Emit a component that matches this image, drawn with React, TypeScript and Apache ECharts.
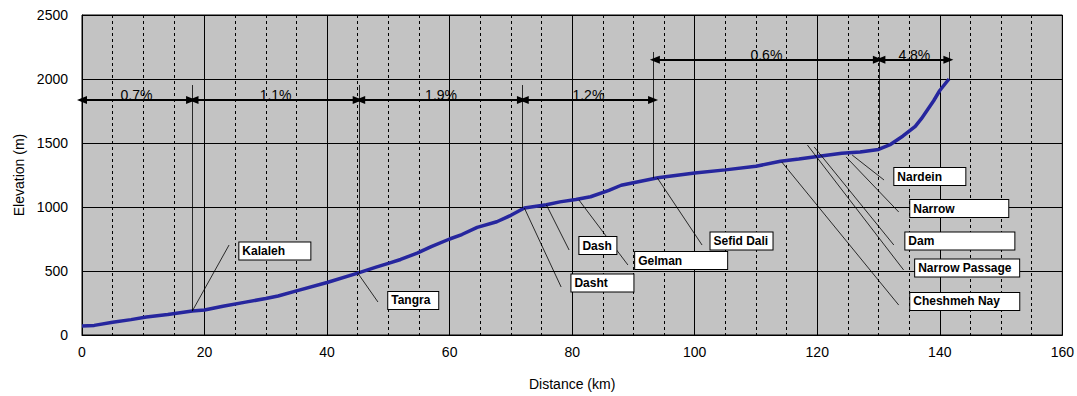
import React, { useEffect, useRef } from "react";
import * as echarts from "echarts";

// ---- Elevation profile ----
const distanceKm = [0, 2, 5, 8, 10.5, 14, 18, 20, 23, 26.7, 30, 32, 35, 40, 45, 48, 50, 52, 54.7, 57, 60, 62, 64.5, 67.7, 70, 72.2, 75.8, 78, 80.6, 83, 86, 88, 90, 94, 100, 105, 110, 114, 117, 120, 124, 127, 130, 132, 134, 136, 137, 138, 139, 140, 141.5];
const elevationM = [70, 75, 100, 120, 140, 160, 187, 195, 225, 257, 285, 305, 345, 410, 484, 530, 560, 590, 640, 690, 750, 785, 841, 885, 935, 992, 1018, 1040, 1059, 1080, 1130, 1170, 1190, 1228, 1265, 1290, 1318, 1358, 1375, 1395, 1420, 1430, 1450, 1490, 1555, 1630, 1690, 1760, 1830, 1910, 2000];

// ---- Gradient segments ----
const gradientLabels = ["0.7%", "1.1%", "1.9%", "1.2%", "0.6%", "4.8%"];
const gradientFromKm = [0, 18.2, 45.4, 72.1, 93.5, 130.3];
const gradientToKm = [17.8, 45.0, 71.8, 93.2, 129.9, 141.4];
const gradientArrowElev = [1836, 1836, 1836, 1836, 2150, 2150];

const dividerKm = [18, 45.2, 71.9, 93.3, 130.1, 141.6];
const dividerTopElev = [1953, 1953, 1953, 2211, 2211, 2211];
const dividerBottomElev = [187, 484, 992, 1225, 1460, 2000];

// ---- Place names ----
const placeNames = ["Kalaleh", "Tangra", "Dasht", "Dash", "Gelman", "Sefid Dali", "Nardein", "Narrow", "Dam", "Narrow Passage", "Cheshmeh Nay"];
const placeKm = [18, 45, 72.2, 75.8, 81.1, 93.9, 125.7, 124.7, 119.5, 118.4, 114.2];
const placeElev = [187, 484, 992, 1016, 1055, 1227, 1406, 1391, 1469, 1484, 1352];
const calloutKm = [24.0, 48.3, 78.2, 79.5, 89.1, 101.2, 130.9, 133.3, 132.5, 134.1, 133.3];
const calloutElev = [703, 258, 375, 664, 547, 703, 1211, 961, 703, 508, 234];
const boxKm = [25.6, 49.9, 79.8, 81.1, 90.2, 102.5, 132.5, 135.1, 134.3, 135.9, 135.1];
const boxElev = [656, 270, 406, 699, 582, 734, 1238, 988, 734, 523, 262];

// box widths in pixels (layout, not data)
const boxWidthPx = [73, 52, 64, 39, 94, 64, 73, 100, 111, 106, 111];

const AXIS_FONT = "'Liberation Sans', Arial, sans-serif";

export default function App() {
  const ref = useRef<HTMLDivElement>(null);

  useEffect(() => {
    if (!ref.current) return;
    const chart = echarts.init(ref.current, undefined, { renderer: "svg" });

    const profile = distanceKm.map((d, i) => [d, elevationM[i]]);

    const arrowLines = gradientLabels.map((lab, i) => [
      { coord: [gradientFromKm[i], gradientArrowElev[i]], name: lab },
      { coord: [gradientToKm[i], gradientArrowElev[i]] },
    ]);

    const dividerLines = dividerKm.map((d, i) => [
      { coord: [d, dividerTopElev[i]] },
      { coord: [d, dividerBottomElev[i]] },
    ]);

    const leaderLines = placeNames.map((_, i) => [
      { coord: [placeKm[i], placeElev[i]] },
      { coord: [calloutKm[i], calloutElev[i]] },
    ]);

    const boxes = placeNames.map((name, i) => ({
      name,
      coord: [boxKm[i], boxElev[i]],
      label: { width: boxWidthPx[i] - 8 },
    }));

    const option: any = {
      animation: false,
      backgroundColor: "#ffffff",
      grid: {
        left: 82,
        right: 7,
        top: 15,
        bottom: 61,
        show: true,
        backgroundColor: "#c3c3c3",
        borderColor: "#000",
        borderWidth: 1,
      },
      xAxis: {
        type: "value",
        min: 0,
        max: 160,
        interval: 20,
        name: "Distance (km)",
        nameLocation: "middle",
        nameGap: 42,
        nameTextStyle: { fontFamily: AXIS_FONT, fontSize: 14, color: "#000" },
        axisLine: { show: true, lineStyle: { color: "#000", width: 1 } },
        axisTick: { show: false },
        axisLabel: { fontFamily: AXIS_FONT, fontSize: 14, color: "#000", margin: 10 },
        splitLine: { show: true, lineStyle: { color: "#000", width: 1 } },
        minorTick: { show: false, splitNumber: 4 },
        minorSplitLine: { show: true, lineStyle: { color: "#000", width: 1, type: [3, 3] } },
      },
      yAxis: {
        type: "value",
        min: 0,
        max: 2500,
        interval: 500,
        name: "Elevation (m)",
        nameLocation: "middle",
        nameGap: 54,
        nameTextStyle: { fontFamily: AXIS_FONT, fontSize: 14, color: "#000" },
        axisLine: { show: true, lineStyle: { color: "#000", width: 1 } },
        axisTick: { show: false },
        axisLabel: {
          fontFamily: AXIS_FONT,
          fontSize: 14,
          color: "#000",
          margin: 14,
          formatter: (v: number) => String(v),
        },
        splitLine: { show: true, lineStyle: { color: "#000", width: 1 } },
      },
      series: [
        {
          type: "line",
          name: "leaders",
          data: [],
          silent: true,
          z: 3,
          markLine: {
            silent: true,
            symbol: ["none", "none"],
            label: { show: false },
            lineStyle: { color: "#000", width: 0.8, type: "solid" },
            emphasis: { disabled: true },
            data: [...leaderLines, ...dividerLines],
          },
        },
        {
          type: "line",
          name: "profile",
          data: profile,
          showSymbol: false,
          symbol: "none",
          z: 4,
          lineStyle: { color: "#26269e", width: 3.5 },
        },
        {
          type: "line",
          name: "gradients",
          data: [],
          silent: true,
          z: 5,
          markLine: {
            silent: true,
            symbol: ["triangle", "triangle"],
            symbolSize: [8, 10],
            lineStyle: { color: "#000", width: 2, type: "solid" },
            itemStyle: { color: "#000" },
            emphasis: { disabled: true },
            label: {
              show: true,
              position: "middle",
              formatter: "{b}",
              distance: -2,
              fontFamily: AXIS_FONT,
              fontSize: 14,
              color: "#000",
            },
            data: arrowLines,
          },
          markPoint: {
            silent: true,
            symbol: "rect",
            symbolSize: 1,
            itemStyle: { color: "rgba(0,0,0,0)" },
            label: {
              show: true,
              position: "right",
              distance: 0,
              formatter: "{b}",
              align: "left",
              verticalAlign: "middle",
              fontFamily: AXIS_FONT,
              fontWeight: "bold",
              fontSize: 12,
              color: "#000",
              backgroundColor: "#fff",
              borderColor: "#000",
              borderWidth: 1,
              padding: [2, 3, 2, 3],
              lineHeight: 13,
            },
            data: boxes,
          },
        },
      ],
    };

    chart.setOption(option);
    return () => chart.dispose();
  }, []);

  return (
    <div
      ref={ref}
      style={{ position: "absolute", left: 0, top: 0, width: 1077, height: 396 }}
    />
  );
}
